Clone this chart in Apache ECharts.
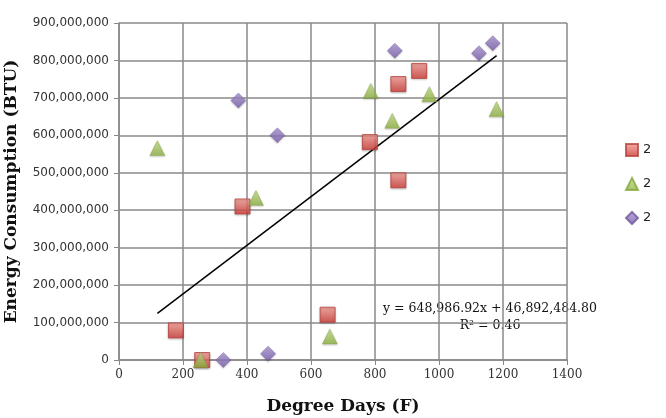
<!DOCTYPE html>
<html>
<head>
<meta charset="utf-8">
<script src="https://cdn.jsdelivr.net/npm/echarts@6/dist/echarts.min.js"></script>
<style>
  html, body { margin: 0; padding: 0; background: #fff; }
  #chart { width: 666px; height: 418px; }
</style>
</head>
<body>
<div id="chart"></div>
<script>
// points: [degree days, BTU]
var redPoints = [
    [178, 79e6], [260, 0], [386, 410e6], [652, 121e6],
    [784, 582e6], [873, 480e6], [873, 737e6], [938, 772e6]
];
var greenPoints = [
    [120, 566e6], [255, 0], [428, 433e6], [659, 63e6],
    [787, 719e6], [854, 639e6], [970, 710e6], [1180, 670e6]
];
var purplePoints = [
    [326, 0], [373, 693e6], [466, 17e6], [495, 600e6],
    [862, 826e6], [1125, 819e6], [1168, 846e6]
];
var legendLabels = ["2", "2", "2"];
// trendline from the equation printed on the chart
var slope = 648986.92;
var intercept = 46892484.80;
var equationText = "y = 648,986.92x + 46,892,484.80";
var r2Text = "R² = 0.46";

var allX = redPoints.concat(greenPoints, purplePoints).map(function (p) { return p[0]; });
var xMin = Math.min.apply(null, allX), xMax = Math.max.apply(null, allX);
var trendData = [[xMin, slope * xMin + intercept], [xMax, slope * xMax + intercept]];

function grad(top, bottom) {
    return new echarts.graphic.LinearGradient(0, 0, 0, 1, [
        { offset: 0, color: top }, { offset: 1, color: bottom }
    ]);
}

var myChart = echarts.init(document.getElementById("chart"));
var seriesNames = ["S1", "S2", "S3"];
var option = {
    animation: false,
    grid: { left: 119, right: 99, top: 23, bottom: 58, outerBoundsMode: "none", containLabel: false },
    legend: {
        orient: "vertical",
        left: 620, top: 138,
        itemGap: 20,
        itemWidth: 12, itemHeight: 12,
        data: seriesNames,
        formatter: function (n) { return legendLabels[seriesNames.indexOf(n)]; },
        textStyle: { fontFamily: "DejaVu Sans", fontSize: 13, color: "#222" }
    },
    xAxis: {
        type: "value", min: 0, max: 1400, interval: 200,
        name: "Degree Days (F)", nameLocation: "middle", nameGap: 38,
        nameTextStyle: { fontFamily: "DejaVu Serif", fontWeight: "bold", fontSize: 17, color: "#111" },
        axisLine: { show: true, lineStyle: { color: "#888", width: 1.5 } },
        axisTick: { show: true, length: 5, lineStyle: { color: "#888" } },
        axisLabel: { fontFamily: "DejaVu Serif", fontSize: 12, color: "#333", margin: 9,
            formatter: function (v) { return String(v); } },
        splitLine: { show: true, lineStyle: { color: "#8a8a8a", width: 1.5 } }
    },
    yAxis: {
        type: "value", min: 0, max: 900000000, interval: 100000000,
        name: "Energy Consumption (BTU)", nameLocation: "middle", nameGap: 99,
        nameTextStyle: { fontFamily: "DejaVu Serif", fontWeight: "bold", fontSize: 17, color: "#111" },
        axisLine: { show: true, lineStyle: { color: "#888", width: 1.5 } },
        axisTick: { show: true, length: 5, lineStyle: { color: "#888" } },
        axisLabel: {
            fontFamily: "DejaVu Sans", fontSize: 12, color: "#333", margin: 10,
            formatter: function (v) { return v.toLocaleString("en-US"); }
        },
        splitLine: { show: true, lineStyle: { color: "#8a8a8a", width: 1.5 } }
    },
    series: [
        {
            name: "S1", type: "scatter", symbol: "rect", symbolSize: 15, z: 3,
            itemStyle: { color: grad("#f49a94", "#c9352f"), borderColor: "#b8423d", borderWidth: 1,
                shadowColor: "rgba(0,0,0,0.25)", shadowBlur: 2, shadowOffsetY: 1 },
            data: redPoints
        },
        {
            name: "S2", type: "scatter", symbol: "triangle", symbolSize: 15, z: 3,
            itemStyle: { color: grad("#c6e08a", "#8db040"), borderColor: "#86a83d", borderWidth: 0.5,
                shadowColor: "rgba(0,0,0,0.25)", shadowBlur: 2, shadowOffsetY: 1 },
            data: greenPoints
        },
        {
            name: "S3", type: "scatter", symbol: "diamond", symbolSize: 15, z: 3,
            itemStyle: { color: grad("#ab98d6", "#7459a6"), borderColor: "#6e589c", borderWidth: 0.5,
                shadowColor: "rgba(0,0,0,0.25)", shadowBlur: 2, shadowOffsetY: 1 },
            data: purplePoints
        },
        {
            name: "Trend", type: "line", showSymbol: false, silent: true, z: 2,
            lineStyle: { color: "#000", width: 1.5 },
            data: trendData
        }
    ],
    graphic: [
        { type: "text", x: 490, y: 302,
          style: { text: equationText, font: "12.5px 'DejaVu Serif'", fill: "#111", textAlign: "center" } },
        { type: "text", x: 490, y: 319,
          style: { text: r2Text, font: "12.5px 'DejaVu Serif'", fill: "#111", textAlign: "center" } }
    ]
};
myChart.setOption(option);
</script>
</body>
</html>
